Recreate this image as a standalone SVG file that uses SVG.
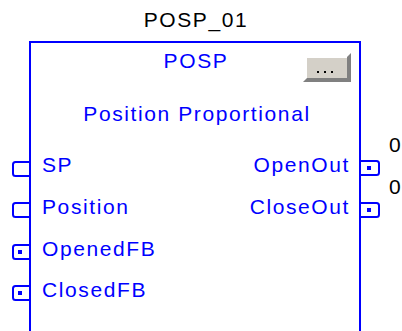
<svg xmlns="http://www.w3.org/2000/svg" width="402" height="331" viewBox="0 0 402 331">
<style>
text{font-family:"Liberation Sans",Arial,sans-serif;font-size:21px;letter-spacing:1.6px}
.t{fill:#000}
.b{fill:#0000ff}
.port{fill:none;stroke:#0000ff;stroke-width:2;stroke-linejoin:round}
.dot{fill:#0000ff}
</style>
<g id="title"><text class="t" x="196" y="27" text-anchor="middle">POSP_01</text></g>
<g id="block">
<rect x="30" y="42" width="330" height="300" fill="#fff" stroke="#0000ff" stroke-width="2"/>
<text class="b" x="196" y="68" text-anchor="middle">POSP</text>
<text class="b" x="197" y="121" text-anchor="middle">Position Proportional</text>
</g>
<g id="button">
<polygon points="347,57 351,53 351,82 303,82 307,78 347,78" fill="#808080"/>
<rect x="307" y="58" width="40" height="20" fill="#d4d0c8"/>
<rect x="317" y="71" width="2" height="2" fill="#000"/>
<rect x="324" y="71" width="2" height="2" fill="#000"/>
<rect x="331" y="71" width="2" height="2" fill="#000"/>
</g>
<g id="in-SP">
<path class="port" d="M30,162 H15.5 Q13,162 13,164.5 V173.5 Q13,176 15.5,176 H30"/>
<text class="b" x="42" y="172">SP</text>
</g>
<g id="in-Position">
<path class="port" d="M30,203 H15.5 Q13,203 13,205.5 V214.5 Q13,217 15.5,217 H30"/>
<text class="b" x="42" y="214">Position</text>
</g>
<g id="in-OpenedFB">
<path class="port" d="M30,245 H15.5 Q13,245 13,247.5 V256.5 Q13,259 15.5,259 H30"/>
<rect class="dot" x="18" y="250" width="4" height="4"/>
<text class="b" x="42" y="256">OpenedFB</text>
</g>
<g id="in-ClosedFB">
<path class="port" d="M30,286 H15.5 Q13,286 13,288.5 V297.5 Q13,300 15.5,300 H30"/>
<rect class="dot" x="18" y="291" width="4" height="4"/>
<text class="b" x="42" y="297">ClosedFB</text>
</g>
<g id="out-OpenOut">
<path class="port" d="M360,161 H376.5 Q379,161 379,163.5 V172.5 Q379,175 376.5,175 H360"/>
<rect class="dot" x="367" y="166" width="4" height="4"/>
<text class="b" x="350" y="172" text-anchor="end">OpenOut</text>
<text class="t" x="389" y="152">0</text>
</g>
<g id="out-CloseOut">
<path class="port" d="M360,203 H376.5 Q379,203 379,205.5 V214.5 Q379,217 376.5,217 H360"/>
<rect class="dot" x="367" y="208" width="4" height="4"/>
<text class="b" x="350" y="214" text-anchor="end">CloseOut</text>
<text class="t" x="389" y="194">0</text>
</g>
<g id="connectors"></g>
</svg>
